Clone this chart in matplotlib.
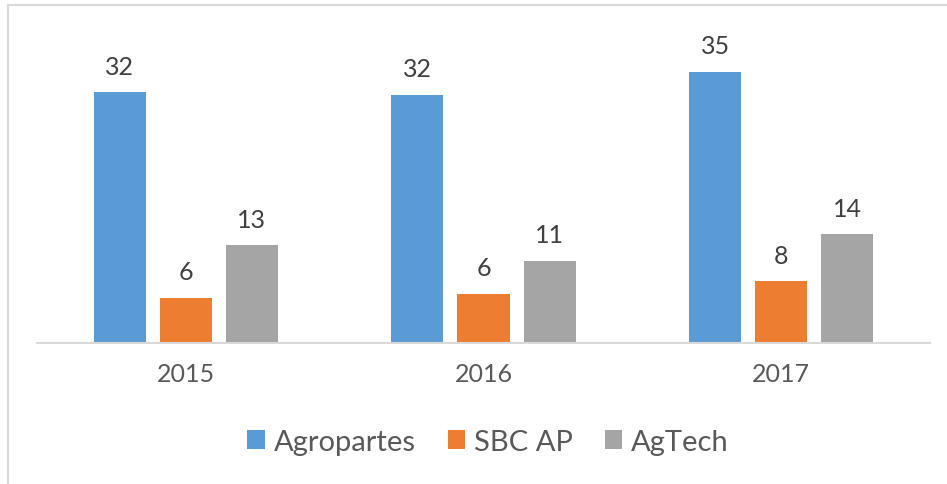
import matplotlib.pyplot as plt
import numpy as np
from matplotlib.patches import Patch
from matplotlib.lines import Line2D

years = ["2015", "2016", "2017"]
series_names = ["Agropartes", "SBC AP", "AgTech"]
agropartes = [32.3, 31.95, 35.0]
sbc_ap = [5.75, 6.25, 7.9]
agtech = [12.55, 10.55, 13.95]
colors = ["#5B9BD5", "#ED7D31", "#A5A5A5"]

plt.rcParams['font.family'] = ['Lato', 'DejaVu Sans']

W, H = 947, 485
fig = plt.figure(figsize=(W / 100, H / 100), dpi=100)

# axes placed in pixel terms: baseline at y=343.5, category span 37..930
base_px = 343.5
top_px = 10
ax = fig.add_axes([37 / W, (H - base_px) / H, (930 - 37) / W, (base_px - top_px) / H])

px_per_unit = 271 / 35.0
ax.set_ylim(0, (base_px - top_px) / px_per_unit)
ax.set_xlim(-0.5, 2.5)

x = np.arange(len(years))
width = 0.175
step = 0.222
all_series = [agropartes, sbc_ap, agtech]
for i, (vals, col) in enumerate(zip(all_series, colors)):
    pos = x + (i - 1) * step
    ax.bar(pos, vals, width=width, color=col, zorder=2)
    for xp, v in zip(pos, vals):
        ax.annotate(f"{round(v + 1e-9):d}", (xp, v), xytext=(0, 13.5), textcoords="offset points",
                    ha="center", va="baseline", fontsize=18, color="#404040")

for s in ["top", "right", "left"]:
    ax.spines[s].set_visible(False)
ax.spines["bottom"].set_color("#D9D9D9")
ax.spines["bottom"].set_linewidth(1.5)
ax.set_yticks([])
ax.set_xticks(x)
ax.set_xticklabels(years, fontsize=18, color="#595959")
ax.tick_params(axis="x", length=0, pad=14)

handles = [Patch(facecolor=c, edgecolor="none") for c in colors]
fig.legend(handles, series_names, loc="center", bbox_to_anchor=(488 / W, (H - 443) / H),
           ncol=3, frameon=False, fontsize=21, labelcolor="#595959",
           handlelength=0.6, handleheight=0.6, handletextpad=0.3, columnspacing=1.1)

# light frame on the left and top edges
fig.add_artist(Line2D([7.5 / W, 7.5 / W], [0, (H - 6) / H], color="#D9D9D9", lw=1.5))
fig.add_artist(Line2D([7.5 / W, 1], [(H - 6) / H, (H - 6) / H], color="#D9D9D9", lw=1.5))

fig.savefig("out.png", dpi=100)
